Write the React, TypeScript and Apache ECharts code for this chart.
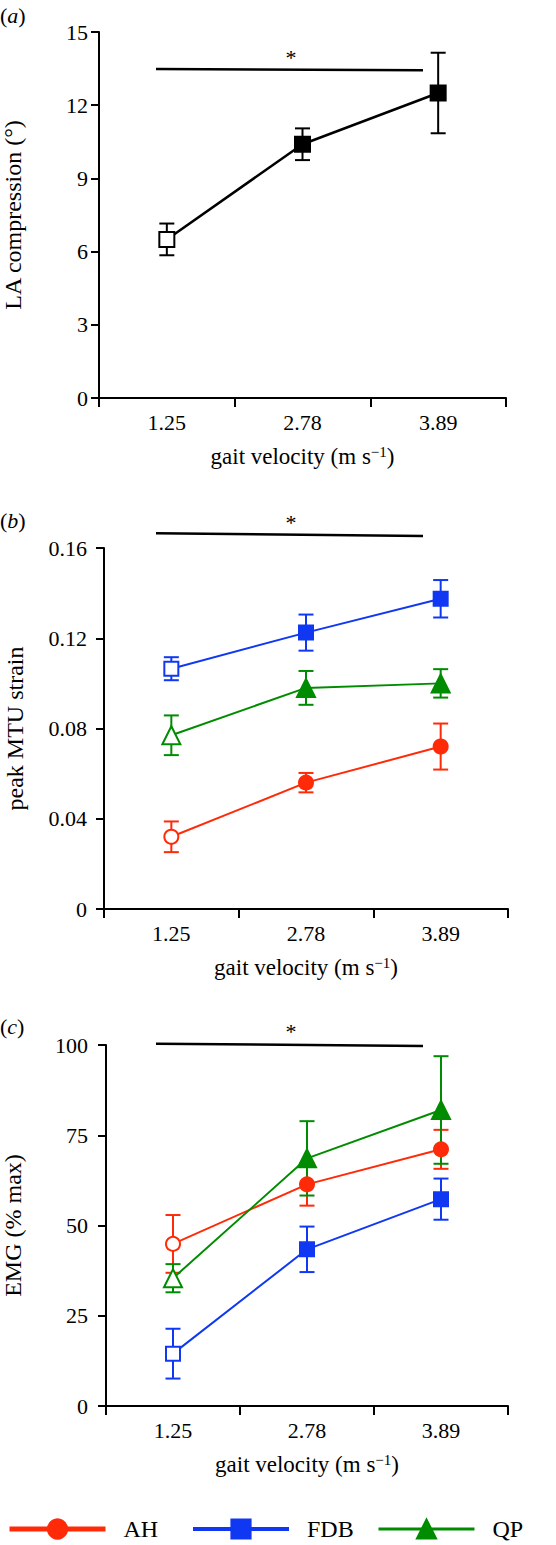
import React, { useEffect, useRef } from 'react';
import * as echarts from 'echarts';

const FONT = '"Liberation Serif", "Times New Roman", "DejaVu Serif", serif';
const RED = '#ff2a08';
const BLUE = '#1038f2';
const GREEN = '#008c00';
const BLACK = '#000000';

const categories = ['1.25', '2.78', '3.89'];

// (a) LA compression (deg)
const laMean = [6.5, 10.4, 12.5];
const laErr = [0.65, 0.65, 1.65];

// (b) peak MTU strain
const strainAH = [0.032, 0.056, 0.072];
const strainAHErr = [0.0068, 0.0043, 0.0102];
const strainFDB = [0.1065, 0.1225, 0.1375];
const strainFDBErr = [0.0051, 0.008, 0.0083];
const strainQP = [0.077, 0.098, 0.1];
const strainQPErr = [0.0088, 0.0075, 0.0063];

// (c) EMG (% max)
const emgAH = [44.9, 61.4, 71.1];
const emgAHErr = [8.0, 5.9, 5.4];
const emgFDB = [14.5, 43.4, 57.3];
const emgFDBErr = [6.9, 6.3, 5.7];
const emgQP = [35.4, 68.6, 82.0];
const emgQPErr = [3.9, 10.3, 14.9];

const yTicksA = { min: 0, max: 15, interval: 3 };
const yTicksB = { min: 0, max: 0.16, interval: 0.04 };
const yTicksC = { min: 0, max: 100, interval: 25 };

function errData(mean: number[], err: number[]) {
  return mean.map((m, i) => [i, m - err[i], m + err[i]]);
}
function lineData(mean: number[], color: string) {
  return mean.map((m, i) =>
    i === 0
      ? { value: m, itemStyle: { color: '#ffffff', borderColor: color, borderWidth: 2 } }
      : m
  );
}
const errRender = (color: string, hw: number) => (params: any, api: any) => {
  const i = api.value(0);
  const lo = api.coord([i, api.value(1)]);
  const hi = api.coord([i, api.value(2)]);
  const st = { stroke: color, lineWidth: 2 };
  return {
    type: 'group',
    children: [
      { type: 'line', shape: { x1: hi[0], y1: hi[1], x2: lo[0], y2: lo[1] }, style: st },
      { type: 'line', shape: { x1: hi[0] - hw, y1: hi[1], x2: hi[0] + hw, y2: hi[1] }, style: st },
      { type: 'line', shape: { x1: lo[0] - hw, y1: lo[1], x2: lo[0] + hw, y2: lo[1] }, style: st },
    ],
  };
};

function errSeries(name: string, idx: number, mean: number[], err: number[], color: string) {
  return {
    type: 'custom',
    name,
    xAxisIndex: idx,
    yAxisIndex: idx,
    z: 1,
    data: errData(mean, err),
    encode: { x: 0, y: [1, 2] },
    renderItem: errRender(color, 7.5),
    silent: true,
  };
}
function lineSeries(
  name: string,
  idx: number,
  mean: number[],
  color: string,
  symbol: string,
  size: number,
  width: number
) {
  return {
    type: 'line',
    name,
    xAxisIndex: idx,
    yAxisIndex: idx,
    z: 3,
    data: lineData(mean, color),
    symbol,
    symbolSize: size,
    showAllSymbol: true,
    lineStyle: { color, width },
    itemStyle: { color, borderColor: color, borderWidth: 2 },
  };
}

const xName = '{n|gait velocity (m s}{s|−1}{n|)}';
const xNameStyle = {
  rich: {
    n: { fontSize: 23, fontFamily: FONT, color: BLACK },
    s: { fontSize: 15, fontFamily: FONT, color: BLACK, padding: [0, 0, 10, 0] },
  },
};

function xAxis(gridIndex: number) {
  return {
    type: 'category',
    gridIndex,
    data: categories,
    boundaryGap: true,
    axisLine: { lineStyle: { color: BLACK, width: 2 } },
    axisTick: { show: true, length: 9, lineStyle: { color: BLACK, width: 2 } },
    axisLabel: { color: BLACK, fontSize: 22, fontFamily: FONT, margin: 13 },
    splitLine: { show: false },
    name: xName,
    nameLocation: 'middle',
    nameGap: 46,
    nameTextStyle: xNameStyle,
  };
}
function yAxis(gridIndex: number, ticks: any, name: string, nameGap: number, labelMargin: number) {
  return {
    type: 'value',
    gridIndex,
    ...ticks,
    axisLine: { show: true, lineStyle: { color: BLACK, width: 2 } },
    axisTick: { show: true, length: 8, lineStyle: { color: BLACK, width: 2 } },
    axisLabel: { color: BLACK, fontSize: 22, fontFamily: FONT, margin: labelMargin },
    splitLine: { show: false },
    name,
    nameLocation: 'middle',
    nameRotate: 90,
    nameGap,
    nameTextStyle: { fontSize: 24, fontFamily: FONT, color: BLACK },
  };
}

function panelLabel(letter: string, y: number) {
  return {
    type: 'text',
    x: 0,
    y,
    style: {
      text: '{n|(}{i|' + letter + '}{n|)}',
      verticalAlign: 'middle',
      rich: {
        n: { fontSize: 22, fontFamily: FONT, fill: BLACK },
        i: { fontSize: 22, fontFamily: FONT, fontStyle: 'italic', fill: BLACK },
      },
    },
  };
}
function sigBar(y1: number, y2: number, starY: number) {
  return [
    {
      type: 'line',
      shape: { x1: 156, y1, x2: 423, y2 },
      style: { stroke: BLACK, lineWidth: 2.5 },
    },
    {
      type: 'text',
      x: 291,
      y: starY,
      style: { text: '*', fontSize: 22, fontFamily: FONT, fill: BLACK, align: 'center', verticalAlign: 'middle' },
    },
  ];
}

function legend(name: string, left: number, width: number) {
  return {
    left,
    top: 1517,
    padding: 0,
    itemWidth: 96,
    itemHeight: 24,
    selectedMode: false,
    lineStyle: { width },
    data: [{ name, lineStyle: { width } }],
    textStyle: { fontSize: 24, fontFamily: FONT, color: BLACK, padding: [0, 0, 0, 13] },
  };
}

export default function App() {
  const ref = useRef<HTMLDivElement>(null);
  useEffect(() => {
    if (!ref.current) return;
    const chart = echarts.init(ref.current, null, { renderer: 'svg' });
    const option: any = {
      animation: false,
      backgroundColor: '#ffffff',
      grid: [
        { left: 99, top: 32, width: 407, height: 366, outerBoundsMode: 'none' },
        { left: 104, top: 548, width: 404, height: 361, outerBoundsMode: 'none' },
        { left: 106, top: 1045, width: 402, height: 361, outerBoundsMode: 'none' },
      ],
      xAxis: [xAxis(0), xAxis(1), xAxis(2)],
      yAxis: [
        yAxis(0, yTicksA, 'LA compression (°)', 74, 11),
        yAxis(1, yTicksB, 'peak MTU strain', 77, 17),
        yAxis(2, yTicksC, 'EMG (% max)', 81, 18),
      ],
      legend: [legend('AH', 7, 5), legend('FDB', 191, 4), legend('QP', 377, 3)],
      graphic: [
        panelLabel('a', 15),
        panelLabel('b', 520),
        panelLabel('c', 1026),
        ...sigBar(69, 70.3, 57),
        ...sigBar(533.3, 536, 522),
        ...sigBar(1043.7, 1046, 1031),
      ],
      series: [
        errSeries('LA err', 0, laMean, laErr, BLACK),
        lineSeries('LA', 0, laMean, BLACK, 'rect', 15, 2.5),

        errSeries('AH err b', 1, strainAH, strainAHErr, RED),
        errSeries('FDB err b', 1, strainFDB, strainFDBErr, BLUE),
        errSeries('QP err b', 1, strainQP, strainQPErr, GREEN),
        lineSeries('AH', 1, strainAH, RED, 'circle', 14, 2),
        lineSeries('FDB', 1, strainFDB, BLUE, 'rect', 14, 2),
        lineSeries('QP', 1, strainQP, GREEN, 'triangle', 18, 2),

        errSeries('AH err c', 2, emgAH, emgAHErr, RED),
        errSeries('FDB err c', 2, emgFDB, emgFDBErr, BLUE),
        errSeries('QP err c', 2, emgQP, emgQPErr, GREEN),
        lineSeries('AH', 2, emgAH, RED, 'circle', 14, 2),
        lineSeries('FDB', 2, emgFDB, BLUE, 'rect', 14, 2),
        lineSeries('QP', 2, emgQP, GREEN, 'triangle', 18, 2),
      ],
    };
    chart.setOption(option);
    return () => chart.dispose();
  }, []);
  return (
    <div
      ref={ref}
      style={{ position: 'absolute', left: 0, top: 0, width: 556, height: 1545, background: '#fff' }}
    />
  );
}
